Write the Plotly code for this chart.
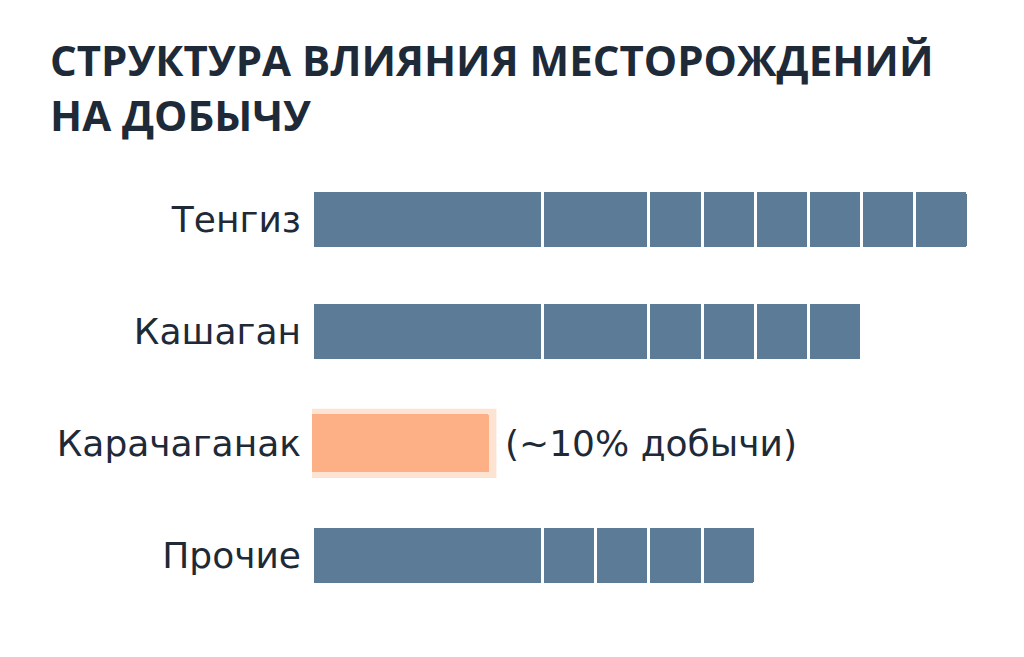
import plotly.graph_objects as go

# ---- data ----
categories = ["Тенгиз", "Кашаган", "Карачаганак", "Прочие"]
segments = [
    [13, 6, 3, 3, 3, 3, 3, 3],   # Тенгиз
    [13, 6, 3, 3, 3, 3],         # Кашаган
    [10],                        # Карачаганак
    [13, 3, 3, 3, 3],            # Прочие
]
highlight = "Карачаганак"
highlight_note = "(~10% добычи)"
title_lines = ["СТРУКТУРА ВЛИЯНИЯ МЕСТОРОЖДЕНИЙ", "НА ДОБЫЧУ"]

# ---- styles ----
W, H = 1024, 657
ML, MR, MT, MB = 304, 32, 156, 54
BLUE = "#5b7b97"
ORANGE = "#fdb085"
GLOW = "#fde3d2"
TEXT = "#1e2a38"
TFONT = "Open Sans"
LFONT = "DejaVu Sans"

fig = go.Figure()
nseg = max(len(s) for s in segments)
for k in range(nseg):
    xs, colors, lcolors, lwidths = [], [], [], []
    for cat, segs in zip(categories, segments):
        xs.append(segs[k] if k < len(segs) else None)
        hl = cat == highlight
        colors.append(ORANGE if hl else BLUE)
        lcolors.append(ORANGE if hl else "white")
        lwidths.append(0 if hl else 3)
    fig.add_trace(go.Bar(
        y=categories, x=xs, orientation="h",
        marker=dict(color=colors, line=dict(color=lcolors, width=lwidths), cornerradius=3),
        width=0.52, showlegend=False, hoverinfo="skip",
    ))

# glow behind highlighted bar, derived from its value
hi = categories.index(highlight)
hval = sum(segments[hi])
fig.add_shape(type="rect", xref="x", yref="y", layer="below",
              x0=-0.4, x1=hval + 0.4, y0=hi - 0.31, y1=hi + 0.31,
              fillcolor=GLOW, line=dict(width=0))
fig.add_annotation(x=hval, y=highlight, xref="x", yref="y", text=highlight_note,
                   showarrow=False, xanchor="left", xshift=14,
                   font=dict(family=LFONT, size=36, color=TEXT))

# title as one two-line annotation placed in pixel space
plot_h = H - MT - MB
def paper_y(py):
    return (H - MB - py) / plot_h
def paper_x(px):
    return (px - ML) / (W - ML - MR)
fig.add_annotation(text="<b>" + "<br>".join(title_lines) + "</b>",
                   xref="paper", yref="paper",
                   x=paper_x(40), y=paper_y(79), xanchor="left", yanchor="middle",
                   align="left", showarrow=False,
                   font=dict(family=TFONT, size=42, color=TEXT))

fig.update_layout(
    width=W, height=H,
    paper_bgcolor="white", plot_bgcolor="white",
    barmode="stack",
    margin=dict(l=ML, r=MR, t=MT, b=MB, autoexpand=False),
    xaxis=dict(range=[0, 38.8], visible=False, fixedrange=True, automargin=False),
    yaxis=dict(autorange="reversed", showgrid=False, zeroline=False, showline=False,
               ticks="", ticklabelstandoff=10, automargin=False,
               tickfont=dict(family=LFONT, size=36, color=TEXT), fixedrange=True),
)

fig.write_html("out.html")
